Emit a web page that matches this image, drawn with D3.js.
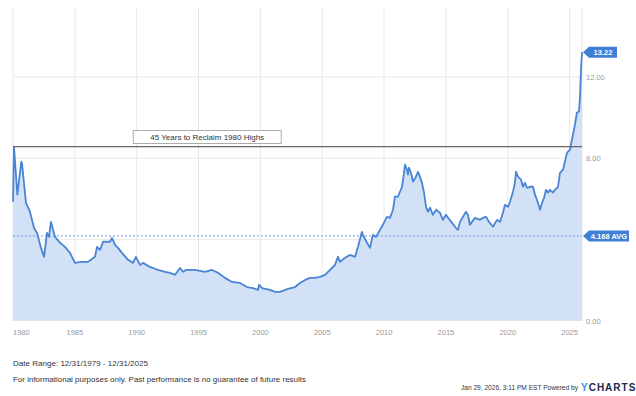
<!DOCTYPE html>
<html>
<head>
<meta charset="utf-8">
<script src="https://cdn.jsdelivr.net/npm/d3@7"></script>
<style>
  body { margin: 0; background: #fff; }
  text { font-family: "Liberation Sans", Arial, sans-serif; }
</style>
</head>
<body>
<script>

// series values (decimal year, value)
var years = [1980.00, 1980.08, 1980.35, 1980.67, 1980.73, 1981.05, 1981.37, 1981.70, 1981.94, 1982.26,
  1982.51, 1982.75, 1982.91, 1983.07, 1983.40, 1983.80, 1984.20, 1984.61, 1985.01, 1985.50,
  1986.06, 1986.63, 1986.79, 1987.03, 1987.28, 1987.84, 1988.00, 1988.25, 1988.49, 1988.81,
  1989.30, 1989.70, 1989.94, 1990.27, 1990.51, 1991.08, 1991.72, 1992.29, 1992.69, 1993.10,
  1993.50, 1993.74, 1993.99, 1994.71, 1995.52, 1996.09, 1996.57, 1997.14, 1997.70, 1998.35,
  1998.92, 1999.40, 1999.81, 1999.89, 2000.13, 2000.78, 2001.18, 2001.58, 2002.23, 2002.80,
  2003.20, 2003.61, 2004.01, 2004.41, 2004.82, 2005.22, 2005.63, 2006.03, 2006.27, 2006.43,
  2006.84, 2007.24, 2007.65, 2007.89, 2008.21, 2008.29, 2008.62, 2008.86, 2009.10, 2009.35,
  2009.67, 2009.91, 2010.23, 2010.48, 2010.72, 2010.88, 2011.12, 2011.45, 2011.61, 2011.69,
  2011.85, 2011.93, 2012.01, 2012.17, 2012.34, 2012.58, 2012.74, 2012.90, 2013.06, 2013.23,
  2013.39, 2013.55, 2013.71, 2013.95, 2014.20, 2014.52, 2014.76, 2015.00, 2015.17, 2015.49,
  2015.81, 2015.97, 2016.14, 2016.38, 2016.62, 2016.78, 2016.94, 2017.11, 2017.35, 2017.75,
  2018.00, 2018.24, 2018.48, 2018.80, 2019.13, 2019.37, 2019.61, 2019.77, 2020.02, 2020.18,
  2020.42, 2020.58, 2020.66, 2020.83, 2021.07, 2021.23, 2021.39, 2021.55, 2021.80, 2022.04,
  2022.20, 2022.36, 2022.61, 2022.77, 2022.93, 2023.09, 2023.25, 2023.41, 2023.65, 2023.82,
  2024.06, 2024.22, 2024.46, 2024.62, 2024.79, 2025.03, 2025.19, 2025.43, 2025.59, 2025.76,
  2025.84, 2025.92, 2026.00];

var values = [5.85, 8.57, 6.20, 7.83, 7.73, 5.80, 5.36, 4.57, 4.32, 3.58,
  3.14, 4.32, 4.12, 4.86, 4.12, 3.83, 3.63, 3.33, 2.84, 2.89,
  2.89, 3.14, 3.63, 3.48, 3.88, 3.88, 4.07, 3.73, 3.58, 3.33,
  2.99, 2.84, 3.14, 2.74, 2.84, 2.64, 2.49, 2.40, 2.35, 2.25,
  2.59, 2.40, 2.49, 2.49, 2.40, 2.49, 2.35, 2.10, 1.90, 1.85,
  1.65, 1.60, 1.51, 1.75, 1.60, 1.51, 1.41, 1.41, 1.56, 1.65,
  1.85, 2.00, 2.10, 2.10, 2.15, 2.25, 2.49, 2.74, 3.14, 2.89,
  3.09, 3.23, 3.14, 3.63, 4.37, 4.22, 3.83, 3.58, 4.22, 4.12,
  4.47, 4.72, 5.11, 5.06, 5.46, 6.10, 6.10, 6.59, 7.28, 7.68,
  7.43, 7.19, 7.53, 7.28, 6.84, 7.09, 7.33, 7.09, 6.79, 6.30,
  5.60, 5.36, 5.56, 5.21, 5.46, 5.31, 4.96, 5.21, 5.06, 4.81,
  4.57, 4.47, 4.86, 5.11, 5.36, 5.21, 4.72, 4.86, 5.06, 4.96,
  5.06, 5.11, 4.86, 4.62, 4.96, 4.86, 5.31, 5.70, 5.60, 5.85,
  6.35, 6.79, 7.33, 7.09, 6.94, 6.59, 6.79, 6.54, 6.59, 6.59,
  6.20, 5.95, 5.46, 5.80, 6.05, 6.44, 6.30, 6.44, 6.30, 6.44,
  6.59, 7.28, 7.43, 7.83, 8.27, 8.42, 8.91, 9.65, 10.25, 10.30,
  11.04, 12.37, 13.22];

// tick labels and reference values
var xTicks = [1980, 1985, 1990, 1995, 2000, 2005, 2010, 2015, 2020, 2025];
var yTicks = [0, 8, 12];
var yGrid = [0, 4, 8, 12];
var average = 4.168;
var lastValue = 13.22;
var high1980 = 8.57;
var annotation = "45 Years to Reclaim 1980 Highs";

var width = 636, height = 396;
var margin = {top: 8, right: 54, bottom: 75.5, left: 13};
var innerW = width - margin.left - margin.right;
var innerH = height - margin.top - margin.bottom;

var data = years.map(function(y, i) { return {year: y, value: values[i]}; });

var svg = d3.select("body")
  .append("svg")
  .attr("width", width)
  .attr("height", height);

var g = svg.append("g")
  .attr("transform", "translate(" + margin.left + "," + margin.top + ")");

var xScale = d3.scaleLinear().domain([1980, 2026]).range([0, innerW]);
var yScale = d3.scaleLinear().domain([0, 15.4]).range([innerH, 0]);

// grid lines
g.selectAll(".vgrid")
  .data(xTicks)
  .enter()
  .append("line")
  .attr("x1", function(d) { return xScale(d); })
  .attr("x2", function(d) { return xScale(d); })
  .attr("y1", 0)
  .attr("y2", innerH)
  .attr("stroke", "#e8e8e8")
  .attr("stroke-width", 1);

g.append("line")
  .attr("x1", innerW).attr("x2", innerW)
  .attr("y1", 0).attr("y2", innerH)
  .attr("stroke", "#e8e8e8");

g.selectAll(".hgrid")
  .data(yGrid)
  .enter()
  .append("line")
  .attr("x1", 0)
  .attr("x2", innerW)
  .attr("y1", function(d) { return yScale(d); })
  .attr("y2", function(d) { return yScale(d); })
  .attr("stroke", "#e8e8e8");

// area + line
var area = d3.area()
  .x(function(d) { return xScale(d.year); })
  .y0(innerH)
  .y1(function(d) { return yScale(d.value); });

var line = d3.line()
  .x(function(d) { return xScale(d.year); })
  .y(function(d) { return yScale(d.value); });

g.append("path")
  .datum(data)
  .attr("d", area)
  .attr("fill", "#d2e1f5");

// average dotted line
g.append("line")
  .attr("x1", 0).attr("x2", innerW)
  .attr("y1", yScale(average)).attr("y2", yScale(average))
  .attr("stroke", "#6f9bd8")
  .attr("stroke-width", 1)
  .attr("stroke-dasharray", "2,2");

g.append("path")
  .datum(data)
  .attr("d", line)
  .attr("fill", "none")
  .attr("stroke", "#4a84d4")
  .attr("stroke-width", 1.8)
  .attr("stroke-linejoin", "round");

// 1980 highs line
g.append("line")
  .attr("x1", 0).attr("x2", innerW)
  .attr("y1", yScale(high1980)).attr("y2", yScale(high1980))
  .attr("stroke", "#666")
  .attr("stroke-width", 1.2);

// annotation box
var ax = xScale(1995.7);
var ay = yScale(high1980) - 9.5;
g.append("rect")
  .attr("x", ax - 74)
  .attr("y", ay - 6.5)
  .attr("width", 148)
  .attr("height", 13)
  .attr("fill", "#fff")
  .attr("stroke", "#999")
  .attr("stroke-width", 0.8);
g.append("text")
  .attr("x", ax)
  .attr("y", ay + 3)
  .attr("text-anchor", "middle")
  .style("font-size", "8px")
  .attr("fill", "#333")
  .text(annotation);

// x axis labels
g.selectAll(".xlab")
  .data(xTicks)
  .enter()
  .append("text")
  .attr("x", function(d, i) { return i == 0 ? 0 : xScale(d); })
  .attr("y", innerH + 14)
  .attr("text-anchor", function(d, i) { return i == 0 ? "start" : "middle"; })
  .style("font-size", "7.5px")
  .attr("fill", "#999")
  .text(function(d) { return d; });

// y axis labels
g.selectAll(".ylab")
  .data(yTicks)
  .enter()
  .append("text")
  .attr("x", innerW + 4)
  .attr("y", function(d) { return yScale(d) + 3; })
  .style("font-size", "7.5px")
  .attr("fill", "#999")
  .text(function(d) { return d.toFixed(2); });

// value flags on the right
function flag(val, label, w) {
  var y = yScale(val);
  var x0 = innerW + 1;
  g.append("path")
    .attr("d", "M" + x0 + "," + y + "L" + (x0 + 6) + "," + (y - 5.5) + "H" + (x0 + w) + "V" + (y + 5.5) + "H" + (x0 + 6) + "Z")
    .attr("fill", "#3f7fd6");
  g.append("text")
    .attr("x", x0 + 6 + (w - 6) / 2)
    .attr("y", y + 3)
    .attr("text-anchor", "middle")
    .style("font-size", "7.5px")
    .style("font-weight", "bold")
    .attr("fill", "#fff")
    .text(label);
}
flag(lastValue, lastValue.toFixed(2), 34);
flag(average, average + " AVG", 46);

// footer
svg.append("text")
  .attr("x", 13).attr("y", 366)
  .style("font-size", "8px")
  .attr("fill", "#333")
  .attr("textLength", 135)
  .attr("lengthAdjust", "spacingAndGlyphs")
  .text("Date Range: 12/31/1979 - 12/31/2025");

svg.append("text")
  .attr("x", 13).attr("y", 382)
  .style("font-size", "8px")
  .attr("fill", "#333")
  .attr("textLength", 293)
  .attr("lengthAdjust", "spacingAndGlyphs")
  .text("For informational purposes only. Past performance is no guarantee of future results");

svg.append("text")
  .attr("x", 578).attr("y", 390)
  .attr("text-anchor", "end")
  .style("font-size", "6.6px")
  .attr("fill", "#333")
  .text("Jan 29, 2026, 3:11 PM EST Powered by");

var brand = svg.append("text")
  .attr("x", 581).attr("y", 391)
  .style("font-size", "10px")
  .style("font-weight", "bold")
  .style("letter-spacing", "1px");
brand.append("tspan").attr("fill", "#3f8fe0").text("Y");
brand.append("tspan").attr("fill", "#1d2a4a").text("CHARTS");

</script>
</body>
</html>
